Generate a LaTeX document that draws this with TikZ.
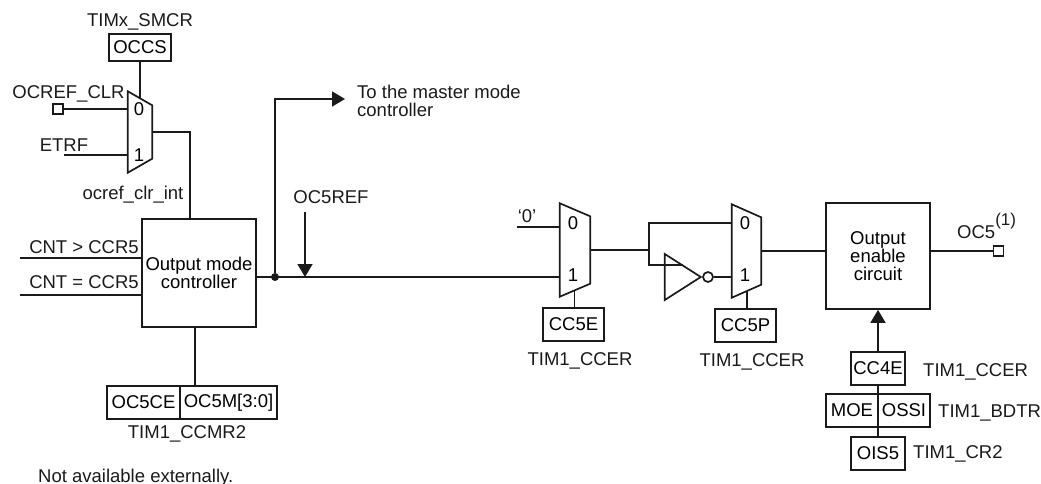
\documentclass[tikz,border=0pt]{standalone}
\usepackage{fontspec}
\setmainfont{Liberation Sans}
\usepackage{tikz}
\usetikzlibrary{arrows.meta, shapes.geometric}

\definecolor{inkline}{HTML}{1A1A1A}

\tikzset{
  wire/.style={line width=1.7pt, draw=inkline},
  wirearrow/.style={wire, -{Triangle[length=13pt, width=15pt]}},
  regbox/.style={draw=inkline, line width=1.7pt, inner sep=0pt, minimum width=#1, minimum height=33pt},
  blockbox/.style={draw=inkline, line width=1.7pt, inner sep=0pt, align=center},
  muxbox/.style={inner sep=0pt, minimum width=#1},
  pinbox/.style={draw=inkline, line width=1.7pt, inner sep=0pt, minimum size=10pt},
  txt/.style={inner sep=0pt, anchor=base, text=inkline},
  txtl/.style={inner sep=0pt, anchor=base west, text=inkline}
}

% trapezium of a mux, drawn on the invisible node #1
\newcommand{\muxoutline}[2]{
  \draw[wire] (#1.north west) -- ([yshift=-#2pt]#1.north east) -- ([yshift=#2pt]#1.south east) -- (#1.south west) -- cycle;
}

\begin{document}
\begin{tikzpicture}[x=1pt, y=-1pt, every node/.style={font=\fontsize{18.5}{18}\selectfont}]

  \useasboundingbox (0,0) rectangle (1041,484);

  % Clear selection mux
  \node[txt] (smcrlabel) at (140,27) {TIMx\_SMCR};
  \node[regbox=62pt, minimum height=27pt] (occs) at (140,47.5) {OCCS};
  \node[muxbox=24pt, minimum height=81pt] (mux1) at (140,132) {};
  \muxoutline{mux1}{14}
  \node (mux1zero) at (139,109) {0};
  \node (mux1one) at (139,155) {1};
  \coordinate (mux1sel) at (140,99);
  \draw[wire] (occs.south) -- (mux1sel);

  \node[txt] (clrlabel) at (68.5,98.5) {OCREF\_CLR};
  \node[pinbox] (clrpin) at (58,109) {};
  \draw[wire] (clrpin.east) -- (clrpin.east -| mux1.west);

  \node[txt] (etrflabel) at (64,151) {ETRF};
  \coordinate (etrfin) at (64,155);
  \draw[wire] (etrfin) -- (etrfin -| mux1.west);

  \node[txt] (clrintlabel) at (133,199) {ocref\_clr\_int};

  % Output mode controller
  \node[blockbox, minimum width=114pt, minimum height=108pt] (omc) at (199,273) {Output mode\\controller};
  \draw[wire] (mux1.east) -| (omc.north -| 190,0);

  \coordinate (cntgt) at (20,258);
  \coordinate (cnteq) at (20,295);
  \node[txt] (cntgtlabel) at (84,253) {CNT > CCR5};
  \node[txt] (cnteqlabel) at (84,288) {CNT = CCR5};
  \draw[wire] (cntgt) -- (cntgt -| omc.west);
  \draw[wire] (cnteq) -- (cnteq -| omc.west);

  % Mode register
  \node[regbox=73pt] (oc5ce) at (143.5,402.5) {OC5CE};
  \node[regbox=97pt] (oc5m) at (228.5,402.5) {OC5M[3:0]};
  \node[txt] (ccmrlabel) at (187,438) {TIM1\_CCMR2};
  \draw[wire] (omc.south -| 195,0) -- (oc5m.north -| 195,0);

  % OC5REF line
  \node[circle, fill=inkline, inner sep=0pt, minimum size=8pt] (refdot) at (275,277) {};
  \coordinate (master) at (345,99);
  \node[txtl] (masterlabel) at (357,99) {To the master mode};
  \node[txtl] (masterlabelb) at (357,117) {controller};
  \draw[wirearrow] (refdot) |- (master);

  \node[txt] (reflabel) at (331,203) {OC5REF};
  \coordinate (refstart) at (305,212);
  \draw[wirearrow] (refstart) -- (refstart |- refdot);

  % Enable mux
  \node[muxbox=30pt, minimum height=93pt] (mux2) at (575,250) {};
  \muxoutline{mux2}{13}
  \node (mux2zero) at (573,223) {0};
  \node (mux2one) at (573,275) {1};
  \draw[wire] (omc.east |- refdot) -- (refdot -| mux2.west);

  \node[txt] (zerolabel) at (527,222) {‘0’};
  \coordinate (zeroin) at (517,227);
  \draw[wire] (zeroin) -- (zeroin -| mux2.west);

  \node[regbox=61pt] (cc5e) at (573.5,324.5) {CC5E};
  \node[txt] (ccerlabela) at (580,365) {TIM1\_CCER};
  \coordinate (mux2sel) at (574.5,291);
  \draw[wire] (mux2sel) -- (mux2sel |- cc5e.north);

  % Polarity mux with inverter
  \node[muxbox=29pt, minimum height=93pt] (mux3) at (746.5,251) {};
  \muxoutline{mux3}{13}
  \node (mux3zero) at (745,223) {0};
  \node (mux3one) at (745,275) {1};

  \coordinate (split) at (649,250);
  \node[draw=inkline, line width=1.7pt, isosceles triangle, isosceles triangle stretches, inner sep=0pt,
        minimum width=46pt, minimum height=36pt, anchor=apex] (inv) at (703,277) {};
  \node[draw=inkline, line width=1.7pt, circle, inner sep=0pt, minimum size=10pt] (bubble) at (708,277) {};
  \draw[wire] (mux2.east) -- (split);
  \draw[wire] (split) |- (mux3zero -| mux3.west);
  \draw[wire] (split) |- (inv.left side);
  \draw[wire] (bubble) -- (bubble -| mux3.west);

  \node[regbox=61pt] (cc5p) at (745.5,325.5) {CC5P};
  \node[txt] (ccerlabelb) at (752,366) {TIM1\_CCER};
  \coordinate (mux3sel) at (747,291);
  \draw[wire] (mux3sel) -- (mux3sel |- cc5p.north);

  % Output enable circuit
  \node[blockbox, minimum width=104pt, minimum height=106pt] (oec) at (878,256) {Output\\enable\\circuit};
  \draw[wire] (mux3.east) -- (mux3.east -| oec.west);

  \node[pinbox] (oc5pin) at (998.5,251) {};
  \node[txtl] (oc5label) at (957,238) {OC5\raisebox{13pt}{\fontsize{17}{17}\selectfont (1)}};
  \draw[wire] (oc5pin.west -| oec.east) -- (oc5pin.west);

  % Enable registers
  \node[regbox=54pt] (cc4e) at (878,368.5) {CC4E};
  \node[regbox=52pt] (moe) at (852,410.5) {MOE};
  \node[regbox=52pt] (ossi) at (904,410.5) {OSSI};
  \node[regbox=54pt] (ois5) at (878,453.5) {OIS5};
  \draw[wire] (cc4e.south) -- (ois5.north);
  \draw[wirearrow] (cc4e.north) -- (oec.south);

  \node[txtl] (cc4elabel) at (923,376) {TIM1\_CCER};
  \node[txtl] (bdtrlabel) at (938,417) {TIM1\_BDTR};
  \node[txtl] (cr2label) at (913,458) {TIM1\_CR2};

  \node[txtl] (notelabel) at (38,482) {Not available externally.};

\end{tikzpicture}
\end{document}
